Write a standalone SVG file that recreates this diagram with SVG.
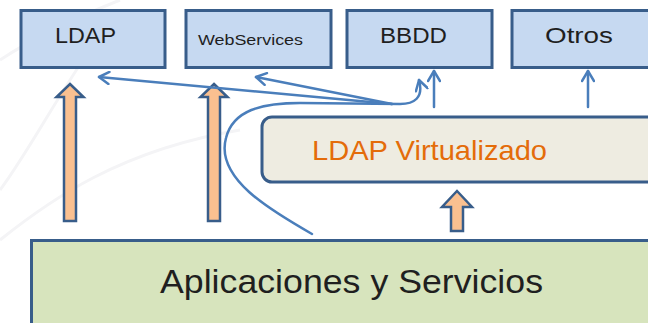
<svg xmlns="http://www.w3.org/2000/svg" width="648" height="323" viewBox="0 0 648 323">
  <defs>
    <style>
      .box { fill: #c6d9f1; stroke: #385d8a; stroke-width: 3; }
      .lbl { font-family: "Liberation Sans", Arial, sans-serif; fill: #1f1f1f; }
      .conn { fill: none; stroke: #4a7ebb; stroke-width: 2.5; stroke-linecap: round; }
      .blk { fill: #fac090; stroke: #385d8a; stroke-width: 2.5; stroke-linejoin: miter; }
      .bg { fill: none; stroke: #f4f4f6; stroke-width: 3; }
    </style>
    <marker id="ah" viewBox="0 0 14 14" refX="12" refY="7" markerWidth="14" markerHeight="14" markerUnits="userSpaceOnUse" orient="auto">
      <path d="M2,1 L12,7 L2,13" fill="none" stroke="#4a7ebb" stroke-width="2.5" stroke-linecap="round" stroke-linejoin="round"/>
    </marker>
  </defs>
  <rect width="648" height="323" fill="#ffffff"/>
  <g id="background">
    <path class="bg" d="M0,190 C30,150 60,90 110,20"/>
    <path class="bg" d="M0,240 C50,200 120,150 240,130"/>
    <path class="bg" d="M0,60 C30,40 70,20 120,0"/>
  </g>
  <g id="node-ldap">
    <rect class="box" x="21" y="10.5" width="144" height="57"/>
    <text class="lbl" x="55" y="43" font-size="22" textLength="61" lengthAdjust="spacingAndGlyphs">LDAP</text>
  </g>
  <g id="node-webservices">
    <rect class="box" x="186" y="10.5" width="145" height="57"/>
    <text class="lbl" x="198" y="45" font-size="14" textLength="105" lengthAdjust="spacingAndGlyphs">WebServices</text>
  </g>
  <g id="node-bbdd">
    <rect class="box" x="347" y="10.5" width="145" height="57"/>
    <text class="lbl" x="380" y="43" font-size="22" textLength="67" lengthAdjust="spacingAndGlyphs">BBDD</text>
  </g>
  <g id="node-otros">
    <rect class="box" x="512" y="10.5" width="150" height="57"/>
    <text class="lbl" x="545" y="43" font-size="22" textLength="68" lengthAdjust="spacingAndGlyphs">Otros</text>
  </g>
  <g id="node-ldap-virtualizado">
    <rect x="262" y="117" width="420" height="65" rx="10" ry="10" fill="#eeece1" stroke="#385d8a" stroke-width="3"/>
    <text x="312" y="160" font-family="'Liberation Sans', Arial, sans-serif" font-size="28" fill="#e46c0a" textLength="235" lengthAdjust="spacingAndGlyphs">LDAP Virtualizado</text>
  </g>
  <g id="node-aplicaciones">
    <rect x="31.5" y="240.5" width="640" height="100" fill="#d7e4bd" stroke="#385d8a" stroke-width="3"/>
    <text class="lbl" x="160" y="293" font-size="34" textLength="383" lengthAdjust="spacingAndGlyphs">Aplicaciones y Servicios</text>
  </g>
  <g id="connectors">
    <polygon class="blk" points="70,84 83.5,97 76,97 76,221 64,221 64,97 56.5,97"/>
    <polygon class="blk" points="214,84 227.5,97 220,97 220,221 208,221 208,97 200.5,97"/>
    <polygon class="blk" points="457,191 472,207 463,207 463,231 451,231 451,207 442,207"/>
    <path class="conn" d="M312,234 C270,210 215,178 226,138 C233,110 262,103 300,103 L400,104 C414,104 424,98 419,80" marker-end="url(#ah)"/>
    <path class="conn" d="M392,104 L99,77" marker-end="url(#ah)"/>
    <path class="conn" d="M392,104 L256,77" marker-end="url(#ah)"/>
    <path class="conn" d="M434,107 L434,71" marker-end="url(#ah)"/>
    <path class="conn" d="M588,107 L588,71" marker-end="url(#ah)"/>
  </g>
</svg>
